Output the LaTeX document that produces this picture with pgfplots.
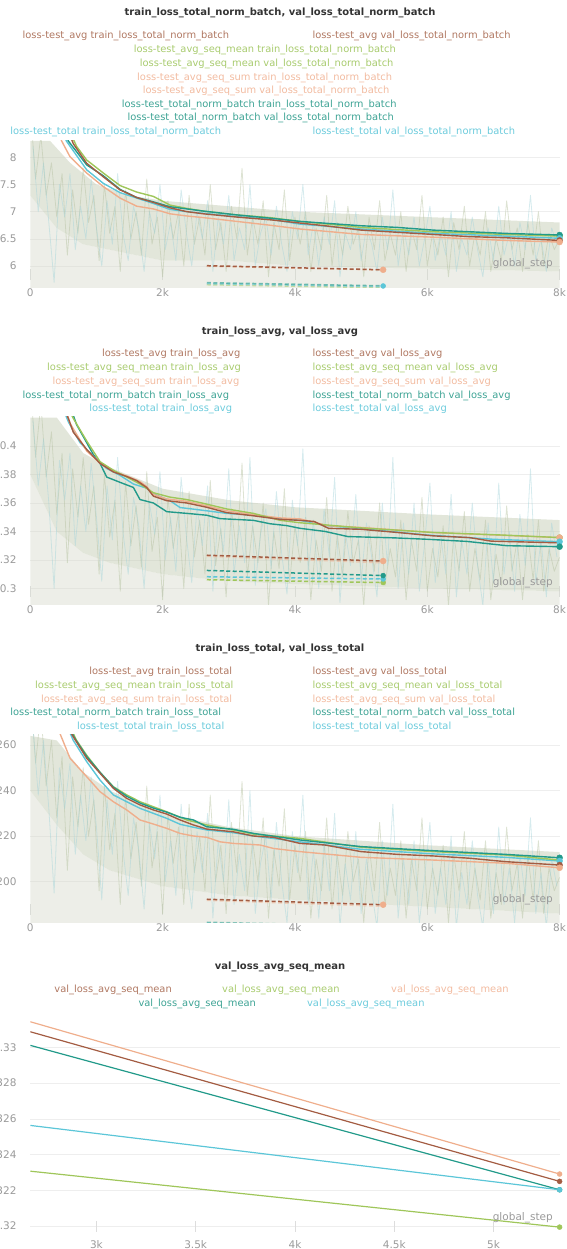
\documentclass[border=0pt]{standalone}
\usepackage{fontspec}
\setmainfont{DejaVu Sans}
\usepackage{pgfplots}
\pgfplotsset{compat=1.18}
\definecolor{cbrown}{HTML}{A35C42}
\definecolor{cgreen}{HTML}{9FC65A}
\definecolor{cpeach}{HTML}{EFAE8C}
\definecolor{cteal}{HTML}{229A8A}
\definecolor{ccyan}{HTML}{5CC6D8}
\definecolor{tbrown}{HTML}{B07862}
\definecolor{tgreen}{HTML}{A8CB6E}
\definecolor{tpeach}{HTML}{F2BBA0}
\definecolor{tteal}{HTML}{3DA394}
\definecolor{tcyan}{HTML}{6CCBDC}
\definecolor{hazeA}{HTML}{B3C09E}
\definecolor{hazeB}{HTML}{A3D3DA}
\definecolor{hazeF}{HTML}{C6CDB6}
\definecolor{hazeO}{HTML}{D6DACB}
\definecolor{gridc}{HTML}{EEEEEE}
\definecolor{tickc}{HTML}{DDDDDD}
\definecolor{labc}{HTML}{9A9A9A}
\definecolor{titc}{HTML}{333333}
\newcommand{\lgf}{\fontsize{9.9}{12}\selectfont}
\newcommand{\tkf}{\fontsize{10.5}{12}\selectfont}
\newcommand{\ttf}{\fontsize{10}{12}\selectfont\bfseries}
\newcommand{\lgd}[4]{\node[anchor=west,inner sep=0pt,text=#1,font=\lgf] at (#2pt,#3pt) {#4};}
\newcommand{\ttl}[2]{\node[anchor=center,inner sep=0pt,text=titc,font=\ttf] at (280pt,#1pt) {#2};}
\tikzset{gs/.style={anchor=east, text=labc, font=\tkf, inner sep=0pt}}
\pgfplotsset{
  wb/.style={
    scale only axis, width=529.3pt,
    xmin=0, xmax=8000,
    axis x line*=bottom, axis y line*=left,
    x axis line style={draw=none}, y axis line style={draw=none},
    ymajorgrids, grid style={color=gridc, line width=0.6pt},
    xtick align=inside, major tick length=11pt,
    xtick style={draw=tickc, line width=0.8pt, yshift=8pt},
    ytick style={draw=none},
    tick label style={font=\tkf, text=labc},
    yticklabel style={xshift=-10.3pt},
    xticklabel style={yshift=3pt},
    anchor=south west,
    /pgf/number format/assume math mode=true,
    every axis plot/.append style={line join=round},
  },
  hz/.style={line width=0.8pt, opacity=0.45},
  core/.style={fill=hazeF, draw=none, opacity=0.5},
  outer/.style={fill=hazeO, draw=none, opacity=0.45},
  sm/.style={line width=1.4pt},
  dsh/.style={line width=1.5pt, dash pattern=on 4pt off 2.5pt},
  dot/.style={only marks, mark=*, mark size=#1},
}
\begin{document}
\begin{tikzpicture}[x=1pt,y=1pt]
\path[use as bounding box] (0,0) rectangle (566,1249);
\clip (0,0) rectangle (566,1249);

% ---------------- Panel 1 ----------------
\ttl{1235.7}{train\_loss\_total\_norm\_batch, val\_loss\_total\_norm\_batch}
\lgd{tbrown}{22.4}{1213.3}{loss-test\_avg train\_loss\_total\_norm\_batch}
\lgd{tbrown}{312.3}{1213.3}{loss-test\_avg val\_loss\_total\_norm\_batch}
\lgd{tgreen}{133.6}{1199}{loss-test\_avg\_seq\_mean train\_loss\_total\_norm\_batch}
\lgd{tgreen}{139.7}{1185}{loss-test\_avg\_seq\_mean val\_loss\_total\_norm\_batch}
\lgd{tpeach}{137}{1171.3}{loss-test\_avg\_seq\_sum train\_loss\_total\_norm\_batch}
\lgd{tpeach}{142.6}{1158.3}{loss-test\_avg\_seq\_sum val\_loss\_total\_norm\_batch}
\lgd{tteal}{121.7}{1144}{loss-test\_total\_norm\_batch train\_loss\_total\_norm\_batch}
\lgd{tteal}{127.4}{1130.7}{loss-test\_total\_norm\_batch val\_loss\_total\_norm\_batch}
\lgd{tcyan}{10.1}{1116.7}{loss-test\_total train\_loss\_total\_norm\_batch}
\lgd{tcyan}{312.3}{1116.7}{loss-test\_total val\_loss\_total\_norm\_batch}

\begin{axis}[wb, at={(30.3pt,961pt)}, height=147pt,
  ymin=5.595, ymax=8.30,
  ytick={6,6.5,7,7.5,8}, yticklabels={6,6.5,7,7.5,8},
  xtick={0,2000,4000,6000,8000}, xticklabels={0,2k,4k,6k,8k}]
\addplot[outer] coordinates {(0,7.3)(400,6.7)(800,6.4)(1200,6.3)(2000,6.1)(3000,6.1)(4000,6.0)(6000,5.95)(8000,5.9)(8000,5.595)(0,5.595)};
\addplot[core] coordinates {(0,8.3)(300,8.3)(600,7.9)(1000,7.5)(1500,7.3)(2000,7.2)(3000,7.1)(4000,7.0)(5000,6.95)(6000,6.9)(7000,6.85)(8000,6.8)(8000,5.9)(6000,5.95)(4000,6.0)(3000,6.1)(2000,6.1)(1200,6.3)(800,6.4)(400,6.7)(0,7.3)};
\addplot[hz, hazeA] coordinates {(0,8.9)(80,7.6)(160,8.4)(240,7.3)(320,7.9)(400,6.9)(480,7.7)(560,6.2)(640,7.4)(720,6.6)(800,7.8)(880,6.8)(960,7.3)(1040,6.1)(1120,7.5)(1200,6.6)(1280,7.1)(1360,5.9)(1440,7.4)(1520,6.5)(1600,7.0)(1680,6.2)(1760,7.6)(1840,6.4)(1920,6.9)(2000,5.8)(2080,7.2)(2160,6.5)(2240,7.0)(2320,6.0)(2400,7.3)(2480,6.4)(2560,6.9)(2640,6.2)(2720,7.5)(2800,6.3)(2880,6.8)(2960,5.9)(3040,7.1)(3120,6.5)(3200,7.8)(3280,6.2)(3360,6.9)(3440,6.4)(3520,7.2)(3600,5.8)(3680,6.8)(3760,6.3)(3840,7.4)(3920,6.1)(4000,6.9)(4080,6.4)(4160,7.0)(4240,5.9)(4320,6.7)(4400,6.3)(4480,7.3)(4560,6.0)(4640,6.8)(4720,6.2)(4800,7.1)(4880,6.4)(4960,6.7)(5040,5.8)(5120,6.9)(5200,6.3)(5280,7.2)(5360,6.1)(5440,6.6)(5520,6.2)(5600,7.0)(5680,5.9)(5760,6.7)(5840,6.3)(5920,7.3)(6000,6.0)(6080,6.6)(6160,6.2)(6240,6.9)(6320,5.8)(6400,6.8)(6480,6.3)(6560,7.1)(6640,6.0)(6720,6.6)(6800,6.2)(6880,7.0)(6960,5.9)(7040,6.5)(7120,6.1)(7200,7.2)(7280,6.3)(7360,6.7)(7440,5.9)(7520,6.8)(7600,6.2)(7680,7.0)(7760,6.0)(7840,6.6)(7920,6.3)(8000,6.5)};
\addplot[hz, hazeB] coordinates {(40,8.2)(120,7.0)(200,7.9)(280,6.8)(360,5.7)(440,7.5)(520,6.9)(600,7.7)(680,6.3)(760,7.1)(840,6.5)(920,7.6)(1000,6.7)(1080,6.0)(1160,7.2)(1240,6.4)(1320,7.7)(1400,6.6)(1480,6.1)(1560,7.1)(1640,6.7)(1720,5.9)(1800,7.0)(1880,6.6)(1960,7.5)(2040,6.3)(2120,6.8)(2200,6.1)(2280,7.4)(2360,6.6)(2440,6.0)(2520,7.0)(2600,6.5)(2680,7.2)(2760,5.9)(2840,6.9)(2920,6.4)(3000,7.3)(3080,6.1)(3160,6.7)(3240,6.3)(3320,7.5)(3400,6.0)(3480,6.6)(3560,6.9)(3640,6.2)(3720,7.1)(3800,6.4)(3880,5.9)(3960,7.0)(4040,6.5)(4120,7.5)(4200,6.2)(4280,6.8)(4360,6.0)(4440,6.9)(4520,6.4)(4600,7.2)(4680,5.8)(4760,6.6)(4840,6.3)(4920,7.0)(5000,6.1)(5080,6.7)(5160,6.4)(5240,5.9)(5320,6.9)(5400,6.3)(5480,7.4)(5560,6.0)(5640,6.7)(5720,6.2)(5800,6.9)(5880,6.0)(5960,6.5)(6040,7.1)(6120,6.1)(6200,6.6)(6280,6.2)(6360,7.0)(6440,5.9)(6520,6.5)(6600,6.2)(6680,6.9)(6760,6.3)(6840,5.8)(6920,6.7)(7000,6.1)(7080,7.1)(7160,6.2)(7240,6.6)(7320,6.0)(7400,6.8)(7480,6.3)(7560,7.3)(7640,6.1)(7720,6.5)(7800,5.9)(7880,6.7)(7960,6.4)};
\addplot[sm, cpeach] coordinates {(380,8.6)(474,8.3)(600,8.01)(852,7.71)(1104,7.46)(1356,7.25)(1608,7.10)(1860,7.05)(2112,6.96)(2364,6.92)(2616,6.89)(3120,6.82)(3624,6.75)(4077,6.68)(5000,6.58)(6090,6.53)(7180,6.47)(8000,6.44)};
\addplot[sm, ccyan] coordinates {(420,8.7)(545,8.3)(852,7.77)(1104,7.52)(1356,7.35)(1608,7.25)(1860,7.15)(2112,7.04)(2364,7.00)(2616,6.97)(3120,6.91)(3624,6.86)(4077,6.77)(5000,6.68)(6090,6.60)(7180,6.55)(8000,6.51)};
\addplot[sm, cgreen] coordinates {(550,8.6)(700,8.2)(852,7.95)(1104,7.71)(1356,7.48)(1608,7.36)(1860,7.28)(2112,7.12)(2364,7.06)(2616,7.01)(3120,6.94)(3624,6.89)(4077,6.82)(5000,6.71)(6090,6.63)(7180,6.58)(8000,6.55)};
\addplot[sm, cteal] coordinates {(450,8.7)(575,8.3)(852,7.86)(1104,7.66)(1356,7.41)(1608,7.26)(1860,7.18)(2112,7.09)(2364,7.05)(2616,7.01)(3120,6.94)(3624,6.88)(4077,6.82)(5000,6.74)(5545,6.71)(6090,6.66)(7180,6.60)(8000,6.57)};
\addplot[sm, cbrown] coordinates {(500,8.7)(650,8.25)(852,7.89)(1104,7.64)(1356,7.40)(1608,7.26)(1860,7.17)(2112,7.07)(2364,7.00)(2616,6.96)(3120,6.90)(3624,6.85)(4077,6.79)(4455,6.74)(5000,6.66)(5545,6.62)(6090,6.58)(6636,6.54)(7180,6.52)(8000,6.47)};
\addplot[dsh, cgreen, opacity=0.5] coordinates {(2667,5.655)(5333,5.60)};
\addplot[dsh, ccyan, opacity=0.6] coordinates {(2667,5.675)(5333,5.62)};
\addplot[dsh, cteal, opacity=0.6] coordinates {(2667,5.693)(5333,5.635)};
\addplot[dsh, cpeach, opacity=0.6] coordinates {(2667,5.995)(5333,5.925)};
\addplot[dsh, cbrown] coordinates {(2667,6.005)(5333,5.93)};
\addplot[dot=3pt, cpeach] coordinates {(5333,5.93)};
\addplot[dot=2.5pt, ccyan] coordinates {(5333,5.632)};
\addplot[dot=3pt, cgreen] coordinates {(8000,6.55)};
\addplot[dot=3pt, cteal] coordinates {(8000,6.57)};
\addplot[dot=3pt, ccyan] coordinates {(8000,6.51)};
\addplot[dot=3pt, cbrown] coordinates {(8000,6.47)};
\addplot[dot=3pt, cpeach] coordinates {(8000,6.44)};
\node[gs, xshift=-6.6pt, yshift=24pt] at (rel axis cs:1,0) {global\_step};
\end{axis}

% ---------------- Panel 2 ----------------
\ttl{917.3}{train\_loss\_avg, val\_loss\_avg}
\lgd{tbrown}{101.8}{894.7}{loss-test\_avg train\_loss\_avg}
\lgd{tbrown}{312.3}{894.7}{loss-test\_avg val\_loss\_avg}
\lgd{tgreen}{47}{880.7}{loss-test\_avg\_seq\_mean train\_loss\_avg}
\lgd{tgreen}{312.3}{880.7}{loss-test\_avg\_seq\_mean val\_loss\_avg}
\lgd{tpeach}{52.3}{866.7}{loss-test\_avg\_seq\_sum train\_loss\_avg}
\lgd{tpeach}{312.3}{866.7}{loss-test\_avg\_seq\_sum val\_loss\_avg}
\lgd{tteal}{22.4}{853}{loss-test\_total\_norm\_batch train\_loss\_avg}
\lgd{tteal}{312.3}{853}{loss-test\_total\_norm\_batch val\_loss\_avg}
\lgd{tcyan}{89.2}{839.7}{loss-test\_total train\_loss\_avg}
\lgd{tcyan}{312.3}{839.7}{loss-test\_total val\_loss\_avg}

\begin{axis}[wb, at={(30.3pt,644pt)}, height=188pt,
  ymin=0.28835, ymax=0.42039,
  ytick={0.3,0.32,0.34,0.36,0.38,0.4}, yticklabels={0.3,0.32,0.34,0.36,0.38,0.4},
  xtick={0,2000,4000,6000,8000}, xticklabels={0,2k,4k,6k,8k}]
\addplot[outer] coordinates {(0,0.38)(400,0.34)(800,0.325)(1200,0.318)(2000,0.31)(3000,0.305)(4000,0.303)(6000,0.3)(8000,0.298)(8000,0.28835)(0,0.28835)};
\addplot[core] coordinates {(0,0.42)(400,0.42)(800,0.395)(1200,0.385)(2000,0.37)(3000,0.362)(4000,0.357)(6000,0.352)(8000,0.348)(8000,0.298)(6000,0.3)(4000,0.303)(3000,0.305)(2000,0.31)(1200,0.318)(800,0.325)(400,0.34)(0,0.38)};
\addplot[hz, hazeA] coordinates {(0,0.445)(80,0.392)(160,0.430)(240,0.378)(320,0.410)(400,0.352)(480,0.395)(560,0.318)(640,0.384)(720,0.350)(800,0.392)(880,0.345)(960,0.372)(1040,0.310)(1120,0.380)(1200,0.336)(1280,0.362)(1360,0.298)(1440,0.375)(1520,0.330)(1600,0.358)(1680,0.315)(1760,0.382)(1840,0.326)(1920,0.350)(2000,0.292)(2080,0.364)(2160,0.328)(2240,0.354)(2320,0.300)(2400,0.368)(2480,0.322)(2560,0.348)(2640,0.310)(2720,0.376)(2800,0.316)(2880,0.342)(2960,0.294)(3040,0.356)(3120,0.324)(3200,0.388)(3280,0.308)(3360,0.344)(3440,0.318)(3520,0.360)(3600,0.288)(3680,0.340)(3760,0.314)(3840,0.370)(3920,0.304)(4000,0.344)(4080,0.318)(4160,0.350)(4240,0.292)(4320,0.334)(4400,0.312)(4480,0.364)(4560,0.298)(4640,0.338)(4720,0.308)(4800,0.354)(4880,0.318)(4960,0.334)(5040,0.288)(5120,0.344)(5200,0.312)(5280,0.360)(5360,0.302)(5440,0.328)(5520,0.308)(5600,0.348)(5680,0.292)(5760,0.334)(5840,0.312)(5920,0.364)(6000,0.298)(6080,0.328)(6160,0.308)(6240,0.344)(6320,0.288)(6400,0.338)(6480,0.312)(6560,0.354)(6640,0.298)(6720,0.328)(6800,0.306)(6880,0.348)(6960,0.292)(7040,0.324)(7120,0.302)(7200,0.358)(7280,0.312)(7360,0.334)(7440,0.292)(7520,0.338)(7600,0.306)(7680,0.348)(7760,0.298)(7840,0.328)(7920,0.312)(8000,0.322)};
\addplot[hz, hazeB] coordinates {(40,0.418)(120,0.372)(200,0.405)(280,0.360)(360,0.300)(440,0.390)(520,0.362)(600,0.395)(680,0.330)(760,0.372)(840,0.340)(920,0.388)(1000,0.350)(1080,0.305)(1160,0.372)(1240,0.334)(1320,0.392)(1400,0.340)(1480,0.310)(1560,0.364)(1640,0.344)(1720,0.300)(1800,0.360)(1880,0.338)(1960,0.382)(2040,0.320)(2120,0.350)(2200,0.312)(2280,0.378)(2360,0.336)(2440,0.304)(2520,0.358)(2600,0.330)(2680,0.372)(2760,0.298)(2840,0.354)(2920,0.326)(3000,0.384)(3080,0.310)(3160,0.344)(3240,0.318)(3320,0.392)(3400,0.302)(3480,0.338)(3560,0.356)(3640,0.314)(3720,0.368)(3800,0.324)(3880,0.296)(3960,0.362)(4040,0.330)(4120,0.398)(4200,0.312)(4280,0.348)(4360,0.300)(4440,0.356)(4520,0.322)(4600,0.378)(4680,0.290)(4760,0.340)(4840,0.316)(4920,0.366)(5000,0.304)(5080,0.346)(5160,0.322)(5240,0.294)(5320,0.360)(5400,0.316)(5480,0.392)(5560,0.300)(5640,0.346)(5720,0.310)(5800,0.360)(5880,0.298)(5960,0.332)(6040,0.374)(6120,0.304)(6200,0.338)(6280,0.310)(6360,0.366)(6440,0.294)(6520,0.334)(6600,0.310)(6680,0.360)(6760,0.316)(6840,0.288)(6920,0.346)(7000,0.304)(7080,0.374)(7160,0.310)(7240,0.340)(7320,0.298)(7400,0.352)(7480,0.316)(7560,0.384)(7640,0.304)(7720,0.334)(7800,0.294)(7880,0.346)(7960,0.322)};
\addplot[sm, cteal] coordinates {(600,0.428)(700,0.415)(852,0.4024)(953,0.3940)(1054,0.3878)(1155,0.3782)(1356,0.3745)(1558,0.3709)(1658,0.3624)(1860,0.3600)(2062,0.3539)(2364,0.3527)(2666,0.3514)(2868,0.3490)(3372,0.3478)(3624,0.3454)(3876,0.3441)(4077,0.3422)(4455,0.3400)(4800,0.3364)(5500,0.3355)(6000,0.3345)(6600,0.3330)(7200,0.3300)(8000,0.3293)};
\addplot[sm, ccyan] coordinates {(480,0.428)(575,0.417)(751,0.4024)(953,0.3927)(1155,0.3842)(1356,0.3794)(1558,0.3733)(1759,0.3704)(1860,0.3665)(2112,0.3616)(2263,0.3568)(2565,0.3551)(2969,0.3527)(3372,0.3514)(3775,0.3490)(4077,0.3478)(4500,0.3440)(5000,0.3420)(6000,0.3375)(7000,0.3345)(8000,0.3328)};
\addplot[sm, cpeach] coordinates {(520,0.428)(600,0.416)(852,0.3965)(1054,0.3880)(1255,0.3822)(1457,0.3790)(1658,0.3750)(1759,0.3715)(1860,0.3660)(2062,0.3628)(2364,0.3612)(2666,0.3580)(2969,0.3545)(3372,0.3518)(3775,0.3495)(4077,0.3488)(4508,0.3440)(5000,0.3428)(5545,0.3410)(6090,0.3392)(6636,0.3382)(7180,0.3372)(8000,0.3357)};
\addplot[sm, cgreen] coordinates {(560,0.428)(650,0.4194)(852,0.4036)(1054,0.3890)(1255,0.3830)(1457,0.3782)(1658,0.3733)(1860,0.3672)(2112,0.3641)(2364,0.3624)(2666,0.3592)(2969,0.3558)(3372,0.3527)(3775,0.3478)(4077,0.3461)(5000,0.3425)(6090,0.3393)(7180,0.3374)(8000,0.3357)};
\addplot[sm, cbrown] coordinates {(500,0.428)(575,0.4194)(650,0.4097)(852,0.3976)(1054,0.3878)(1255,0.3818)(1457,0.3786)(1608,0.3757)(1759,0.3709)(1860,0.3648)(2062,0.3616)(2364,0.3600)(2666,0.3570)(2969,0.3532)(3372,0.3510)(3775,0.3485)(4077,0.3478)(4290,0.3470)(4508,0.3422)(5000,0.3415)(5545,0.3393)(6090,0.3369)(6636,0.3357)(6964,0.3332)(8000,0.3320)};
\addplot[dsh, cgreen] coordinates {(2667,0.3061)(5333,0.3041)};
\addplot[dsh, ccyan] coordinates {(2667,0.3082)(5333,0.3066)};
\addplot[dsh, cteal] coordinates {(2667,0.3126)(5333,0.3090)};
\addplot[dsh, cpeach, opacity=0.5] coordinates {(2667,0.3225)(5333,0.3180)};
\addplot[dsh, cbrown] coordinates {(2667,0.3233)(5333,0.3192)};
\addplot[dot=2.5pt, cgreen] coordinates {(5333,0.3041)};
\addplot[dot=2.5pt, ccyan] coordinates {(5333,0.3066)};
\addplot[dot=2.5pt, cteal] coordinates {(5333,0.3090)};
\addplot[dot=3pt, cpeach] coordinates {(5333,0.3192)};
\addplot[dot=3pt, cgreen] coordinates {(8000,0.3357)};
\addplot[dot=3pt, cpeach] coordinates {(8000,0.3357)};
\addplot[dot=3pt, ccyan] coordinates {(8000,0.3328)};
\addplot[dot=3pt, cteal] coordinates {(8000,0.3293)};
\node[gs, xshift=-6.6pt, yshift=22.7pt] at (rel axis cs:1,0) {global\_step};
\end{axis}

% ---------------- Panel 3 ----------------
\ttl{600}{train\_loss\_total, val\_loss\_total}
\lgd{tbrown}{89.2}{576.7}{loss-test\_avg train\_loss\_total}
\lgd{tbrown}{312.3}{576.7}{loss-test\_avg val\_loss\_total}
\lgd{tgreen}{35}{563.3}{loss-test\_avg\_seq\_mean train\_loss\_total}
\lgd{tgreen}{312.3}{563.3}{loss-test\_avg\_seq\_mean val\_loss\_total}
\lgd{tpeach}{40.8}{549}{loss-test\_avg\_seq\_sum train\_loss\_total}
\lgd{tpeach}{312.3}{549}{loss-test\_avg\_seq\_sum val\_loss\_total}
\lgd{tteal}{10.1}{535.7}{loss-test\_total\_norm\_batch train\_loss\_total}
\lgd{tteal}{312.3}{535.7}{loss-test\_total\_norm\_batch val\_loss\_total}
\lgd{tcyan}{76.9}{521.7}{loss-test\_total train\_loss\_total}
\lgd{tcyan}{312.3}{521.7}{loss-test\_total val\_loss\_total}

\begin{axis}[wb, at={(30.3pt,326pt)}, height=188pt,
  ymin=181.87, ymax=264.39,
  ytick={200,220,240,260}, yticklabels={200,220,240,260},
  xtick={0,2000,4000,6000,8000}, xticklabels={0,2k,4k,6k,8k}]
\addplot[outer] coordinates {(0,240)(400,225)(800,212)(1200,205)(2000,198)(3000,194)(4000,192)(6000,189)(8000,186)(8000,181.87)(0,181.87)};
\addplot[core] coordinates {(0,264)(400,262)(800,248)(1200,240)(2000,230)(3000,224)(4000,220)(6000,216)(8000,213)(8000,186)(6000,189)(4000,192)(3000,194)(2000,198)(1200,205)(800,212)(400,225)(0,240)};
\addplot[hz, hazeA] coordinates {(0,285)(80,252)(160,275)(240,242)(320,262)(400,228)(480,255)(560,205)(640,246)(720,224)(800,250)(880,220)(960,236)(1040,196)(1120,242)(1200,214)(1280,230)(1360,190)(1440,238)(1520,210)(1600,226)(1680,198)(1760,242)(1840,206)(1920,222)(2000,186)(2080,230)(2160,208)(2240,224)(2320,190)(2400,234)(2480,204)(2560,220)(2640,196)(2720,238)(2800,200)(2880,216)(2960,186)(3040,226)(3120,204)(3200,244)(3280,194)(3360,218)(3440,200)(3520,228)(3600,184)(3680,214)(3760,198)(3840,232)(3920,192)(4000,216)(4080,200)(4160,222)(4240,184)(4320,210)(4400,196)(4480,228)(4560,188)(4640,212)(4720,194)(4800,222)(4880,200)(4960,210)(5040,182)(5120,216)(5200,196)(5280,226)(5360,190)(5440,206)(5520,194)(5600,218)(5680,184)(5760,210)(5840,196)(5920,228)(6000,188)(6080,206)(6160,194)(6240,216)(6320,182)(6400,212)(6480,196)(6560,222)(6640,188)(6720,206)(6800,192)(6880,218)(6960,184)(7040,204)(7120,190)(7200,224)(7280,196)(7360,208)(7440,184)(7520,212)(7600,192)(7680,218)(7760,186)(7840,206)(7920,196)(8000,202)};
\addplot[hz, hazeB] coordinates {(40,268)(120,238)(200,262)(280,232)(360,195)(440,250)(520,232)(600,252)(680,212)(760,238)(840,218)(920,246)(1000,224)(1080,192)(1160,236)(1240,212)(1320,244)(1400,214)(1480,194)(1560,228)(1640,214)(1720,188)(1800,226)(1880,210)(1960,238)(2040,200)(2120,218)(2200,194)(2280,234)(2360,206)(2440,188)(2520,222)(2600,204)(2680,230)(2760,184)(2840,218)(2920,200)(3000,236)(3080,190)(3160,212)(3240,196)(3320,240)(3400,186)(3480,208)(3560,220)(3640,192)(3720,226)(3800,200)(3880,182)(3960,222)(4040,204)(4120,238)(4200,190)(4280,214)(4360,184)(4440,218)(4520,196)(4600,230)(4680,180)(4760,208)(4840,192)(4920,222)(5000,186)(5080,210)(5160,196)(5240,180)(5320,218)(5400,194)(5480,234)(5560,184)(5640,210)(5720,190)(5800,218)(5880,182)(5960,202)(6040,226)(6120,186)(6200,206)(6280,190)(6360,220)(6440,180)(6520,204)(6600,190)(6680,218)(6760,194)(6840,180)(6920,210)(7000,186)(7080,224)(7160,190)(7240,206)(7320,182)(7400,212)(7480,194)(7560,228)(7640,186)(7720,204)(7800,180)(7880,210)(7960,198)};
\addplot[sm, cpeach] coordinates {(420,268)(449,265)(600,254.2)(852,246.1)(1054,239.5)(1255,235.1)(1457,231.5)(1658,227.1)(1860,225.3)(2062,223.4)(2263,221.2)(2465,220.05)(2666,219.5)(2868,217.5)(3070,216.8)(3473,216.1)(3674,214.6)(4077,213.2)(5000,210.7)(6090,209.5)(7180,208.1)(8000,206.1)};
\addplot[sm, ccyan] coordinates {(560,268)(650,262)(852,252.7)(1054,244.6)(1255,238.1)(1457,235.1)(1658,232.2)(1860,230.0)(2062,227.8)(2263,225.2)(2465,223.9)(2666,222.7)(3070,221.5)(3372,220.05)(4077,217.5)(5000,214.2)(6090,212.2)(7180,210.7)(8000,209.1)};
\addplot[sm, cgreen] coordinates {(600,268)(700,262)(852,255.5)(1054,248)(1255,241.7)(1457,238.1)(1658,235.1)(1860,232.9)(2062,230.7)(2364,227.1)(2666,224.9)(3070,222.7)(3372,220.9)(3674,220.05)(4077,219.0)(5000,215.1)(6090,213.2)(7180,211.7)(8000,209.5)};
\addplot[sm, cteal] coordinates {(580,268)(680,262.5)(852,255)(1054,248)(1255,241.5)(1457,237.5)(1658,234.5)(1860,232.3)(2062,230.5)(2263,228.3)(2465,227.1)(2666,224.1)(3070,223.0)(3372,221.2)(4077,218.3)(5000,215.4)(6090,213.6)(7180,212.0)(8000,210.5)};
\addplot[sm, cbrown] coordinates {(560,268)(650,263.6)(852,254.2)(1054,247.6)(1255,241.0)(1457,236.6)(1658,233.7)(1860,231.5)(2062,229.7)(2263,227.1)(2465,224.9)(2666,223.1)(3070,221.9)(3372,220.05)(3674,219.5)(4077,216.8)(4455,216.1)(5000,213.2)(5545,212.0)(6090,211.3)(6636,210.3)(7180,208.8)(8000,207.3)};
\addplot[dsh, ccyan, opacity=0.5] coordinates {(2667,181.8)(5333,180.0)};
\addplot[dsh, cteal, opacity=0.5] coordinates {(2667,182.2)(5333,180.5)};
\addplot[dsh, cpeach, opacity=0.5] coordinates {(2667,191.8)(5333,189.2)};
\addplot[dsh, cbrown] coordinates {(2667,192.3)(5333,189.9)};
\addplot[dot=3pt, cpeach] coordinates {(5333,189.9)};
\addplot[dot=3pt, cteal] coordinates {(8000,210.5)};
\addplot[dot=3pt, ccyan] coordinates {(8000,209.1)};
\addplot[dot=3pt, cbrown] coordinates {(8000,207.3)};
\addplot[dot=3pt, cpeach] coordinates {(8000,206.1)};
\node[gs, xshift=-6.6pt, yshift=23pt] at (rel axis cs:1,0) {global\_step};
\end{axis}

% ---------------- Panel 4 ----------------
\ttl{281.7}{val\_loss\_avg\_seq\_mean}
\lgd{tbrown}{54.2}{259}{val\_loss\_avg\_seq\_mean}
\lgd{tgreen}{222}{259}{val\_loss\_avg\_seq\_mean}
\lgd{tpeach}{391}{259}{val\_loss\_avg\_seq\_mean}
\lgd{tteal}{138.3}{245}{val\_loss\_avg\_seq\_mean}
\lgd{tcyan}{306.9}{245}{val\_loss\_avg\_seq\_mean}

\begin{axis}[wb, at={(30.3pt,9pt)}, height=227pt,
  xmin=2667, xmax=5333,
  ymin=0.31922, ymax=0.33192,
  ytick={0.32,0.322,0.324,0.326,0.328,0.33}, yticklabels={0.32,0.322,0.324,0.326,0.328,0.33},
  xtick={3000,3500,4000,4500,5000}, xticklabels={3k,3.5k,4k,4.5k,5k}]
\addplot[line width=1.2pt, cgreen] coordinates {(2667,0.32307)(5333,0.31994)};
\addplot[line width=1.2pt, cteal] coordinates {(2667,0.33011)(5333,0.32203)};
\addplot[line width=1.2pt, ccyan] coordinates {(2667,0.32563)(5333,0.32203)};
\addplot[line width=1.2pt, cbrown] coordinates {(2667,0.33087)(5333,0.3225)};
\addplot[line width=1.2pt, cpeach] coordinates {(2667,0.33143)(5333,0.32291)};
\addplot[dot=2.5pt, cgreen] coordinates {(5333,0.31994)};
\addplot[dot=2.5pt, cteal] coordinates {(5333,0.32203)};
\addplot[dot=2.5pt, ccyan] coordinates {(5333,0.32203)};
\addplot[dot=2.5pt, cbrown] coordinates {(5333,0.3225)};
\addplot[dot=2.5pt, cpeach] coordinates {(5333,0.32291)};
\node[gs, xshift=-6.6pt, yshift=22.7pt] at (rel axis cs:1,0) {global\_step};
\end{axis}
\end{tikzpicture}
\end{document}
